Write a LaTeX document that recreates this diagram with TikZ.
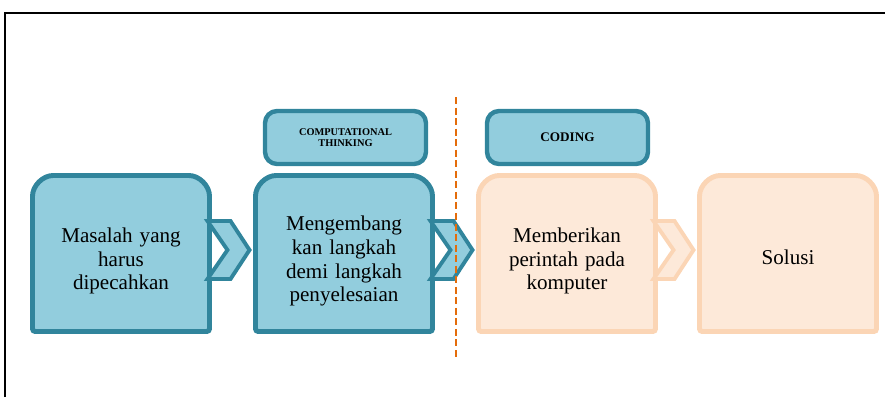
\documentclass[tikz,border=0pt]{standalone}
\usepackage{fontspec}
\setmainfont{Liberation Serif}
\usetikzlibrary{calc,backgrounds}

\definecolor{ctfill}{RGB}{146,205,221}
\definecolor{ctline}{RGB}{49,133,156}
\definecolor{pcfill}{RGB}{253,233,217}
\definecolor{pcline}{RGB}{251,213,181}
\definecolor{cutorange}{RGB}{228,108,10}

% chevron between two stages: from, to, style
\newcommand{\stepchevron}[3]{%
\draw[#3,line width=2.2pt] ($(#1.east)+(-2,32.5)$) -- ($(#2.west)+(-25,32.5)$) -- ($(#2.west)+(-6,3.5)$)
  -- ($(#2.west)+(-25,-25.5)$) -- ($(#1.east)+(-2,-25.5)$) -- ($(#1.east)+(18,3.5)$) -- cycle;}

\begin{document}
\begin{tikzpicture}[x=0.02cm,y=0.02cm,
  stage/.style={minimum width=3.54cm,minimum height=3.12cm,inner sep=0pt,outer sep=0pt,
    text width=3.3cm,align=center,font=\fontsize{12}{13.5}\selectfont,
    execute at begin node={\rule{0pt}{#1}}},
  stage/.default=17pt,
  bluetab/.style={draw=ctline,fill=ctfill,line width=2.8pt,rounded corners=1.5pt},
  peachtab/.style={draw=pcline,fill=pcfill,line width=2.8pt,rounded corners=1.5pt},
  tagbox/.style={draw=ctline,fill=ctfill,line width=2.5pt,rounded corners=0.24cm,
    minimum width=3.22cm,minimum height=1.06cm,inner sep=0pt,align=center},
  cutline/.style={draw=cutorange,line width=1.1pt,dash pattern=on 4pt off 2pt}]
\useasboundingbox (0,0) rectangle (885,397);

% draw frame
\draw[line width=0.8pt] (5,0) -- (5,384) -- (885,384);

% draw stages
\node[stage] (masalah) at (121,143.5) {Masalah yang\\harus\\dipecahkan};
\node[stage] (langkah) at (344,143.5) {Mengembang\\kan langkah\\demi langkah\\penyelesaian};
\node[stage] (perintah) at (567,143.5) {Memberikan\\perintah pada\\komputer};
\node[stage=12.5pt] (solusi) at (788,143.5) {Solusi};

\begin{scope}[on background layer]
\foreach \n/\s in {masalah/bluetab,langkah/bluetab,perintah/peachtab,solusi/peachtab}
  \draw[\s] (\n.south west) -- ([yshift=-0.46cm]\n.north west)
    arc[start angle=180,end angle=90,radius=0.46cm] -- ([xshift=-0.46cm]\n.north east)
    arc[start angle=90,end angle=0,radius=0.46cm] -- (\n.south east) -- cycle;
\end{scope}

% draw chevrons
\stepchevron{masalah}{langkah}{draw=ctline,fill=ctfill}
\stepchevron{langkah}{perintah}{draw=ctline,fill=ctfill}
\stepchevron{perintah}{solusi}{draw=pcline,fill=pcfill}

% draw tags
\node[tagbox,font=\fontsize{5.9}{6.3}\bfseries] (ct) at (345.5,259.5) {COMPUTATIONAL\\THINKING};
\node[tagbox,font=\fontsize{7.5}{8}\bfseries] (coding) at (567.5,259.5) {CODING};

% draw cut
\coordinate (cut top) at (456,300);
\coordinate (cut bottom) at (456,39);
\draw[cutline] (cut top) -- (cut bottom);

\end{tikzpicture}
\end{document}
